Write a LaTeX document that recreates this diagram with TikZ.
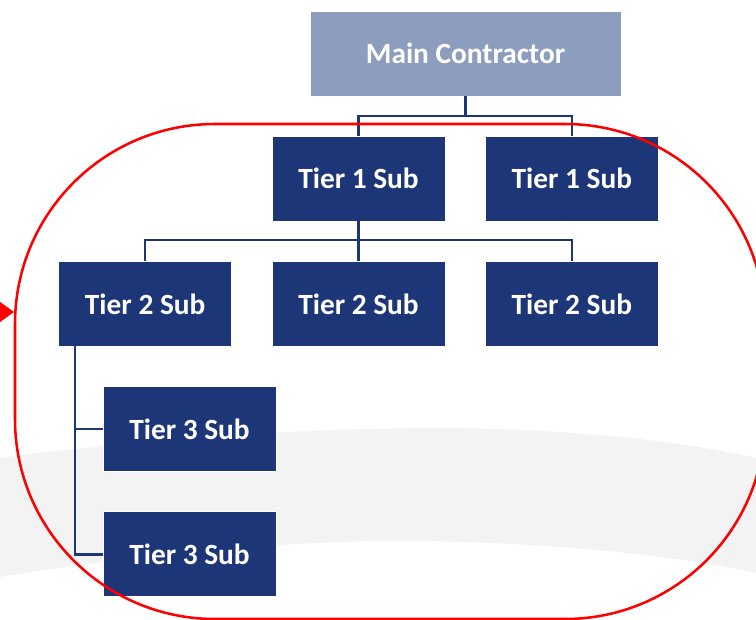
\documentclass[tikz,border=0pt]{standalone}
\usepackage{xcolor}
\usepackage{fontspec}
\setmainfont{Carlito}
\usepackage{tikz}
\usetikzlibrary{arrows.meta}

\definecolor{subblue}{HTML}{1D3677}
\definecolor{mainblue}{HTML}{8C9DBD}
\definecolor{swoosh}{HTML}{F3F3F3}

\begin{document}
\begin{tikzpicture}[x=0.75pt, y=-0.75pt, thick,
    subbox/.style={draw=white, line width=0.6pt, fill=subblue, text=white,
        font=\bfseries\fontsize{22}{26}\selectfont,
        minimum width=129.75pt, minimum height=63.75pt, inner sep=0pt},
    mainbox/.style={subbox, fill=mainblue, minimum width=233.25pt},
    link/.style={draw=subblue, line width=1.8pt}]
    \useasboundingbox (0,0) rectangle (756,620);
    \clip (0,0) rectangle (756,620);

    % Background
    \fill[swoosh] (0,458) .. controls (150,438) and (300,428) .. (450,428)
        .. controls (600,430) and (700,445) .. (756,458) -- (756,573)
        .. controls (650,550) and (500,540) .. (378,541)
        .. controls (250,543) and (100,560) .. (0,577) -- cycle;

    % Nodes
    \node (main) [mainbox] at (465.5,53.5) {Main Contractor};
    \node (t1a) [subbox] at (358.5,178.5) {Tier 1 Sub};
    \node (t1b) [subbox, right of=t1a, node distance=160pt] {Tier 1 Sub};
    \node (t2b) [subbox, below of=t1a, node distance=94pt] {Tier 2 Sub};
    \node (t2a) [subbox, left of=t2b, node distance=160pt] {Tier 2 Sub};
    \node (t2c) [subbox, right of=t2b, node distance=160pt] {Tier 2 Sub};
    \node (t3a) [subbox] at (189.5,429) {Tier 3 Sub};
    \node (t3b) [subbox, below of=t3a, node distance=94pt] {Tier 3 Sub};

    % Edges
    \coordinate (bus1) at (465.5,116);
    \coordinate (bus2) at (358.5,240);
    \coordinate (trunk) at (75,346);
    \draw[link] (main) -- (bus1);
    \draw[link] (t1a.north) |- (bus1) -| (t1b.north);
    \draw[link] (t1a) -- (t2b);
    \draw[link] (t2a.north) |- (bus2) -| (t2c.north);
    \draw[link] (trunk) |- (t3b.west);
    \draw[link] (trunk |- t3a.west) -- (t3a.west);

    % Frame
    \draw[red, line width=1.9pt, rounded corners=150pt] (15,124) rectangle (765,619);
    \coordinate (tail) at (-30,312);
    \coordinate (tip) at (14,312);
    \draw[red, line width=1.9pt, -{Triangle[length=13.5pt, width=19pt]}] (tail) -- (tip);
\end{tikzpicture}
\end{document}
